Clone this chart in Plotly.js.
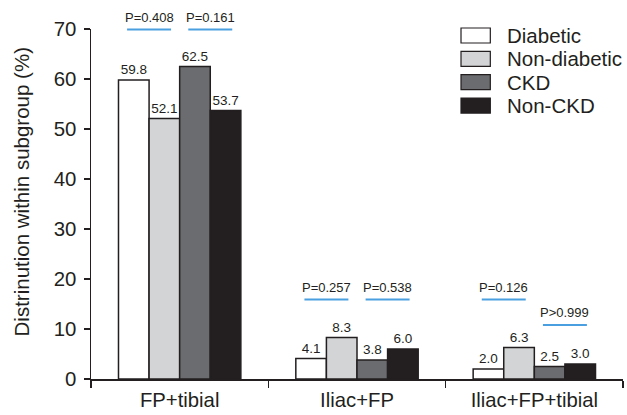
<!DOCTYPE html>
<html>
<head>
<meta charset="utf-8">
<script src="https://cdn.plot.ly/plotly-3.0.1.min.js"></script>
<style>html,body{margin:0;padding:0;background:#fff;}#chart{width:627px;height:415px;}</style>
</head>
<body>
<div id="chart"></div>
<script>
// ---- data ----
var categories = ['FP+tibial', 'Iliac+FP', 'Iliac+FP+tibial'];
var seriesNames = ['Diabetic', 'Non-diabetic', 'CKD', 'Non-CKD'];
var diabetic    = [59.8, 4.1, 2.0];
var nonDiabetic = [52.1, 8.3, 6.3];
var ckd         = [62.5, 3.8, 2.5];
var nonCkd      = [53.7, 6.0, 3.0];
var yTicks = [0, 10, 20, 30, 40, 50, 60, 70];
var yTitle = 'Distrinution within subgroup (%)';
// p-value comparisons: category index, pair (0 = diabetic vs non-diabetic, 1 = CKD vs non-CKD), label, bracket height (%)
var pCategory = [0, 0, 1, 1, 2, 2];
var pPair     = [0, 1, 0, 1, 0, 1];
var pLabels   = ['P=0.408', 'P=0.161', 'P=0.257', 'P=0.538', 'P=0.126', 'P>0.999'];
var pHeights  = [69.9, 69.9, 15.9, 15.9, 15.9, 10.8];

// ---- styles ----
var colors = ['#ffffff', '#d3d4d5', '#6b6c6f', '#231f20'];
var ink = '#231f20';
var blue = '#4a9fe0';
var font = 'Liberation Sans, Arial, sans-serif';
var Y_MAX = 70;
var BARGAP = 0.31;
var barW = (1 - BARGAP) / 4;

var seriesValues = [diabetic, nonDiabetic, ckd, nonCkd];
var traces = seriesValues.map(function (vals, i) {
  return {
    type: 'bar',
    name: seriesNames[i],
    x: categories,
    y: vals,
    marker: {color: colors[i], line: {color: ink, width: 1.5}},
    texttemplate: '%{y:.1f}',
    textposition: 'outside',
    constraintext: 'none',
    cliponaxis: false,
    textfont: {family: font, size: 13.5, color: ink},
    showlegend: false,
    hoverinfo: 'skip'
  };
});

var shapes = [];
var annotations = [];

// p-value brackets
for (var k = 0; k < pLabels.length; k++) {
  var cx = pCategory[k] + (pPair[k] === 0 ? -barW : barW);
  var half = 0.124;
  shapes.push({
    type: 'line', xref: 'x', yref: 'paper',
    x0: cx - half, x1: cx + half,
    y0: pHeights[k] / Y_MAX, y1: pHeights[k] / Y_MAX,
    line: {color: blue, width: 2}
  });
  annotations.push({
    xref: 'x', yref: 'paper',
    x: cx, y: (pHeights[k] + 2.45) / Y_MAX,
    text: pLabels[k], showarrow: false,
    xanchor: 'center', yanchor: 'middle',
    font: {family: font, size: 13, color: ink}
  });
}

// custom legend
var legX0 = 0.6955, legBoxW = 0.0551, legTop = 0.9814, legStep = 0.0667, legBoxH = 0.0429;
for (var s = 0; s < seriesNames.length; s++) {
  var yc = legTop - s * legStep;
  shapes.push({
    type: 'rect', xref: 'paper', yref: 'paper',
    x0: legX0, x1: legX0 + legBoxW,
    y0: yc - legBoxH / 2, y1: yc + legBoxH / 2,
    fillcolor: colors[s], line: {color: ink, width: 1.2}
  });
  annotations.push({
    xref: 'paper', yref: 'paper',
    x: legX0 + legBoxW + 0.028, y: yc,
    text: seriesNames[s], showarrow: false,
    xanchor: 'left', yanchor: 'middle',
    font: {family: font, size: 20.5, color: ink}
  });
}

// y-axis title
annotations.push({
  xref: 'paper', yref: 'paper',
  x: 0, y: 0.533, xshift: -70,
  text: yTitle, showarrow: false, textangle: -90,
  xanchor: 'center', yanchor: 'middle',
  font: {family: font, size: 20.5, color: ink}
});

var layout = {
  width: 627, height: 415,
  margin: {l: 91, r: 4, t: 29, b: 36},
  paper_bgcolor: '#fff', plot_bgcolor: '#fff',
  font: {family: font, color: ink},
  barmode: 'group',
  bargap: BARGAP,
  bargroupgap: 0,
  xaxis: {
    type: 'category',
    range: [-0.5, 2.5],
    showline: true, linecolor: ink, linewidth: 1.5,
    ticks: 'outside', tickson: 'boundaries', ticklen: 7, tickwidth: 1.5, tickcolor: ink,
    ticklabelstandoff: 2,
    tickfont: {family: font, size: 20.3, color: ink},
    showgrid: false, zeroline: false,
    fixedrange: true
  },
  yaxis: {
    range: [0, Y_MAX],
    tickvals: yTicks,
    ticktext: yTicks.map(String),
    showline: true, linecolor: ink, linewidth: 1.5,
    ticks: 'outside', ticklen: 6, tickwidth: 1.2, tickcolor: ink,
    ticklabelstandoff: 3,
    tickfont: {family: font, size: 20.4, color: ink},
    showgrid: false, zeroline: false,
    fixedrange: true
  },
  shapes: shapes,
  annotations: annotations,
  showlegend: false
};

Plotly.newPlot('chart', traces, layout, {displayModeBar: false, staticPlot: true});
</script>
</body>
</html>
